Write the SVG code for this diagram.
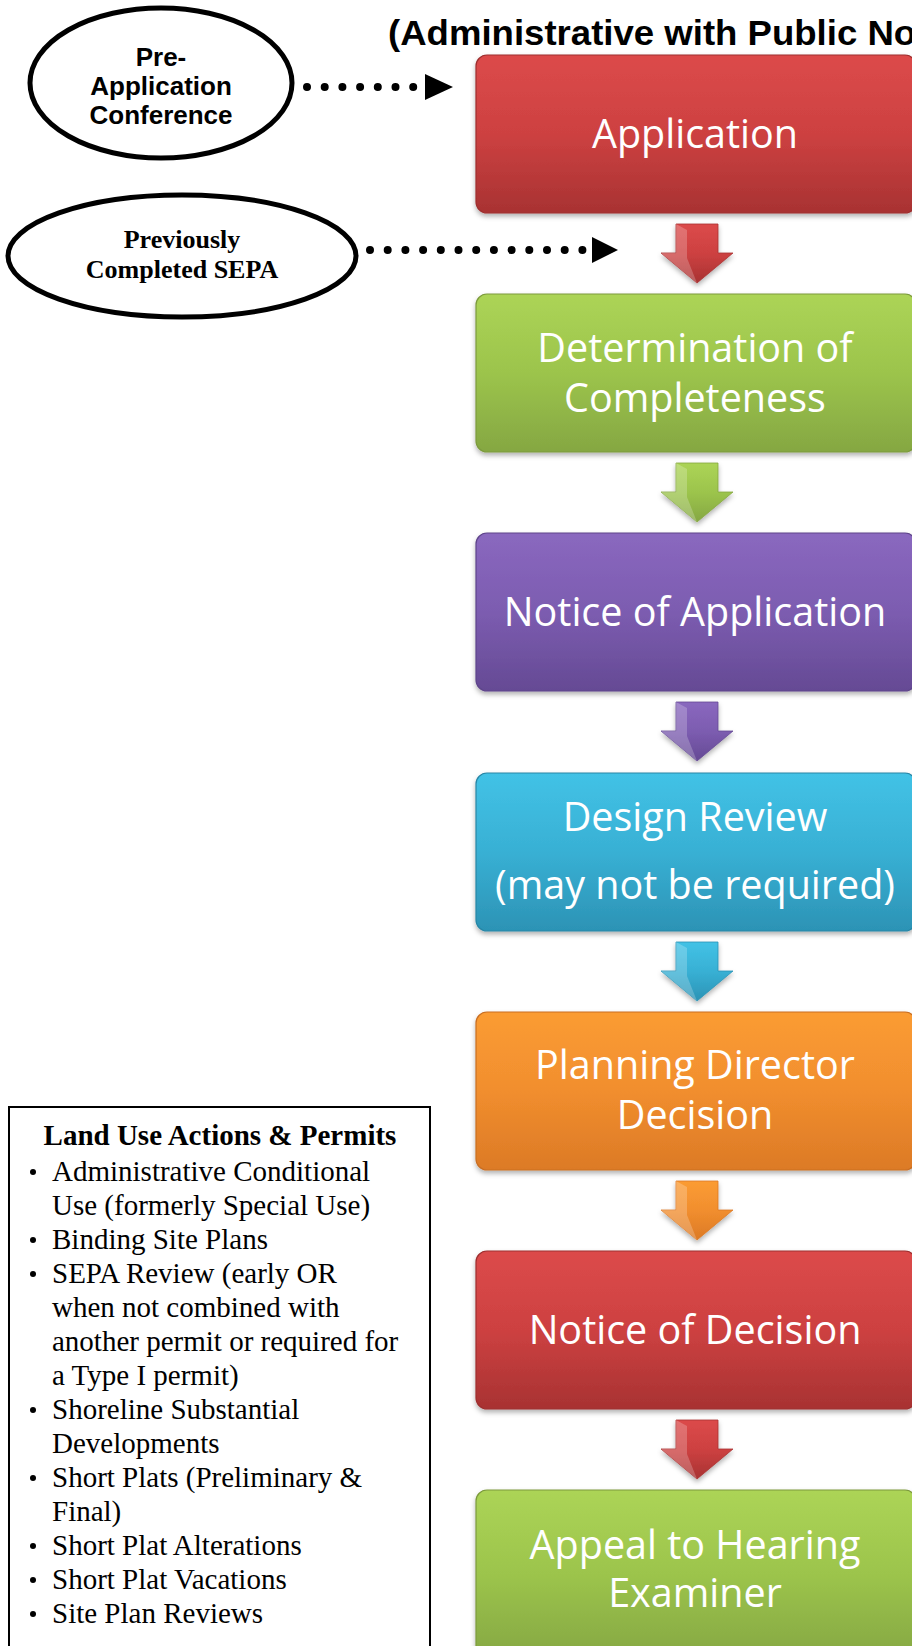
<svg xmlns="http://www.w3.org/2000/svg" width="912" height="1646" viewBox="0 0 912 1646">
<style>
.title{font-family:"Liberation Sans",Arial,sans-serif;font-weight:bold;font-size:35px;fill:#000}
.ell{fill:none;stroke:#000;stroke-width:5}
.etA{font-family:"Liberation Sans",Arial,sans-serif;font-weight:bold;font-size:26px;fill:#000;text-anchor:middle}
.etT{font-family:"Liberation Serif","Times New Roman",serif;font-weight:bold;font-size:26px;fill:#000;text-anchor:middle}
.dots{fill:none;stroke:#000;stroke-width:8;stroke-linecap:round;stroke-dasharray:0 17.7}
.bx{stroke-width:1.2;filter:url(#sh)}
.bt{font-family:"Open Sans","Noto Sans",sans-serif;font-size:39.5px;fill:#fff;text-anchor:middle}
.hl{fill:#fff;opacity:0.22}
.leg{fill:#fff;stroke:#000;stroke-width:2}
.lt{font-family:"Liberation Serif","Times New Roman",serif;font-size:29px;fill:#000}
.bul{fill:#000}
.ltb{font-family:"Liberation Serif","Times New Roman",serif;font-size:29px;font-weight:bold;fill:#000;text-anchor:middle}
</style>
<defs>
<linearGradient id="gR" x1="0" y1="0" x2="0" y2="1"><stop offset="0" stop-color="#dc4a4a"/><stop offset="0.5" stop-color="#cd4141"/><stop offset="1" stop-color="#a83232"/></linearGradient>
<linearGradient id="gG" x1="0" y1="0" x2="0" y2="1"><stop offset="0" stop-color="#acd456"/><stop offset="0.5" stop-color="#9cc44c"/><stop offset="1" stop-color="#85a742"/></linearGradient>
<linearGradient id="gP" x1="0" y1="0" x2="0" y2="1"><stop offset="0" stop-color="#8a68bf"/><stop offset="0.5" stop-color="#7c5cb0"/><stop offset="1" stop-color="#654a94"/></linearGradient>
<linearGradient id="gB" x1="0" y1="0" x2="0" y2="1"><stop offset="0" stop-color="#42c2e6"/><stop offset="0.5" stop-color="#38b0d4"/><stop offset="1" stop-color="#2c93b5"/></linearGradient>
<linearGradient id="gO" x1="0" y1="0" x2="0" y2="1"><stop offset="0" stop-color="#fb9c33"/><stop offset="0.5" stop-color="#f18e2e"/><stop offset="1" stop-color="#dc7a26"/></linearGradient>
<filter id="sh" x="-5%" y="-5%" width="110%" height="115%"><feDropShadow dx="0" dy="3" stdDeviation="2.5" flood-color="#000" flood-opacity="0.3"/></filter>
</defs>
<rect width="912" height="1646" fill="#fff"/>

<text class="title" transform="translate(388,45) scale(1.045,1)">(Administrative with Public No</text>

<g id="preapp">
<ellipse class="ell" cx="161" cy="83" rx="131" ry="75"/>
<text class="etA" x="161" y="66">Pre-</text>
<text class="etA" x="161" y="95">Application</text>
<text class="etA" x="161" y="124">Conference</text>
</g>

<g id="sepa">
<ellipse class="ell" cx="182" cy="256" rx="174" ry="61"/>
<text class="etT" x="182" y="248">Previously</text>
<text class="etT" x="182" y="278">Completed SEPA</text>
</g>

<g id="legend">
<rect class="leg" x="9" y="1107" width="421" height="560"/>
<text class="ltb" x="220" y="1145">Land Use Actions &amp; Permits</text>
<g class="bul">
<circle cx="33" cy="1172" r="3"/>
<circle cx="33" cy="1240" r="3"/>
<circle cx="33" cy="1274" r="3"/>
<circle cx="33" cy="1410" r="3"/>
<circle cx="33" cy="1478" r="3"/>
<circle cx="33" cy="1546" r="3"/>
<circle cx="33" cy="1580" r="3"/>
<circle cx="33" cy="1614" r="3"/>
</g>
<g class="lt">
<text x="52" y="1181">Administrative Conditional</text>
<text x="52" y="1215">Use (formerly Special Use)</text>
<text x="52" y="1249">Binding Site Plans</text>
<text x="52" y="1283">SEPA Review (early OR</text>
<text x="52" y="1317">when not combined with</text>
<text x="52" y="1351">another permit or required for</text>
<text x="52" y="1385">a Type I permit)</text>
<text x="52" y="1419">Shoreline Substantial</text>
<text x="52" y="1453">Developments</text>
<text x="52" y="1487">Short Plats (Preliminary &amp;</text>
<text x="52" y="1521">Final)</text>
<text x="52" y="1555">Short Plat Alterations</text>
<text x="52" y="1589">Short Plat Vacations</text>
<text x="52" y="1623">Site Plan Reviews</text>
</g>
</g>

<g id="application">
<rect class="bx" x="476" y="55" width="440" height="158" rx="11" fill="url(#gR)" stroke="#9e2e2e"/>
<text class="bt" x="695" y="148">Application</text>
</g>
<g id="determination">
<rect class="bx" x="476" y="294" width="440" height="158" rx="11" fill="url(#gG)" stroke="#7c9a3c"/>
<text class="bt" x="695" y="362">Determination of</text>
<text class="bt" x="695" y="412">Completeness</text>
</g>
<g id="notice-application">
<rect class="bx" x="476" y="533" width="440" height="158" rx="11" fill="url(#gP)" stroke="#5e448a"/>
<text class="bt" x="695" y="626">Notice of Application</text>
</g>
<g id="design-review">
<rect class="bx" x="476" y="773" width="440" height="158" rx="11" fill="url(#gB)" stroke="#2886a6"/>
<text class="bt" x="695" y="831">Design Review</text>
<text class="bt" x="695" y="899">(may not be required)</text>
</g>
<g id="planning-director">
<rect class="bx" x="476" y="1012" width="440" height="158" rx="11" fill="url(#gO)" stroke="#c96e22"/>
<text class="bt" x="695" y="1079">Planning Director</text>
<text class="bt" x="695" y="1129">Decision</text>
</g>
<g id="notice-decision">
<rect class="bx" x="476" y="1251" width="440" height="158" rx="11" fill="url(#gR)" stroke="#9e2e2e"/>
<text class="bt" x="695" y="1344">Notice of Decision</text>
</g>
<g id="appeal">
<rect class="bx" x="476" y="1490" width="440" height="170" rx="11" fill="url(#gG)" stroke="#7c9a3c"/>
<text class="bt" x="695" y="1559">Appeal to Hearing</text>
<text class="bt" x="695" y="1607">Examiner</text>
</g>

<g id="connectors">
<path class="dots" d="M307,87 H416"/>
<path d="M425,74 L453,87 L425,100 Z" fill="#000"/>
<path class="dots" d="M370,250 H586"/>
<path d="M592,237 L618,250 L592,263 Z" fill="#000"/>

<g filter="url(#sh)">
<path d="M676,224 H718 V253 H733 L697,283 L661,253 H676 Z" fill="url(#gR)" stroke="#a83232" stroke-width="0.8"/>
<path class="hl" d="M676,224 L687,230 V258 L697,283 L661,253 H676 Z"/>
<path d="M676,463 H718 V492 H733 L697,522 L661,492 H676 Z" fill="url(#gG)" stroke="#85a742" stroke-width="0.8"/>
<path class="hl" d="M676,463 L687,469 V497 L697,522 L661,492 H676 Z"/>
<path d="M676,702 H718 V731 H733 L697,761 L661,731 H676 Z" fill="url(#gP)" stroke="#654a94" stroke-width="0.8"/>
<path class="hl" d="M676,702 L687,708 V736 L697,761 L661,731 H676 Z"/>
<path d="M676,942 H718 V971 H733 L697,1001 L661,971 H676 Z" fill="url(#gB)" stroke="#2c93b5" stroke-width="0.8"/>
<path class="hl" d="M676,942 L687,948 V976 L697,1001 L661,971 H676 Z"/>
<path d="M676,1181 H718 V1210 H733 L697,1240 L661,1210 H676 Z" fill="url(#gO)" stroke="#dc7a26" stroke-width="0.8"/>
<path class="hl" d="M676,1181 L687,1187 V1215 L697,1240 L661,1210 H676 Z"/>
<path d="M676,1420 H718 V1449 H733 L697,1479 L661,1449 H676 Z" fill="url(#gR)" stroke="#a83232" stroke-width="0.8"/>
<path class="hl" d="M676,1420 L687,1426 V1454 L697,1479 L661,1449 H676 Z"/>
</g>
</g>
</svg>
